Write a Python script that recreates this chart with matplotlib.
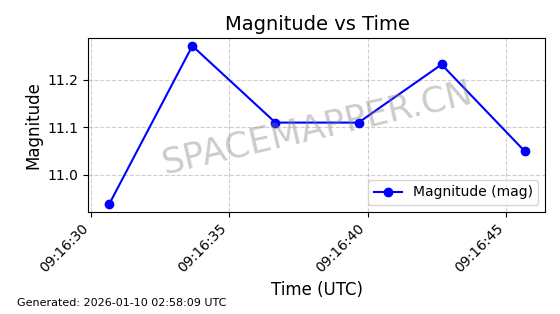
import pandas as pd
import matplotlib
matplotlib.use('Agg')
import matplotlib.pyplot as plt
import matplotlib.dates as mdates

times = pd.to_datetime([
    '2026-01-10 09:16:30.67',
    '2026-01-10 09:16:33.67',
    '2026-01-10 09:16:36.67',
    '2026-01-10 09:16:39.67',
    '2026-01-10 09:16:42.67',
    '2026-01-10 09:16:45.67',
])
magnitudes = [10.939, 11.271, 11.110, 11.110, 11.232, 11.050]

fig, ax = plt.subplots(figsize=(5.6, 3.14), dpi=100)
fig.subplots_adjust(left=0.158, right=0.974, top=0.879, bottom=0.325)

# Plot magnitude series
ax.plot(times, magnitudes, color='blue', marker='o', markersize=6,
        linewidth=1.5, label='Magnitude (mag)')

ax.set_title('Magnitude vs Time', fontsize=14)
ax.set_xlabel('Time (UTC)', fontsize=12)
ax.set_ylabel('Magnitude', fontsize=12)
ax.grid(True, linestyle='--', alpha=0.6)
ax.legend(loc='lower right')

ax.xaxis.set_major_locator(mdates.SecondLocator(bysecond=range(0, 60, 5)))
ax.xaxis.set_major_formatter(mdates.DateFormatter('%H:%M:%S'))
plt.setp(ax.get_xticklabels(), rotation=45, ha='right')

# Watermark
ax.text(0.5, 0.48, 'SPACEMAPPER.CN', transform=ax.transAxes, fontsize=25.5,
        color='gray', alpha=0.4, rotation=13, ha='center', va='center')

fig.text(0.03, 0.025, 'Generated: 2026-01-10 02:58:09 UTC', fontsize=8)

plt.savefig('out.png')
